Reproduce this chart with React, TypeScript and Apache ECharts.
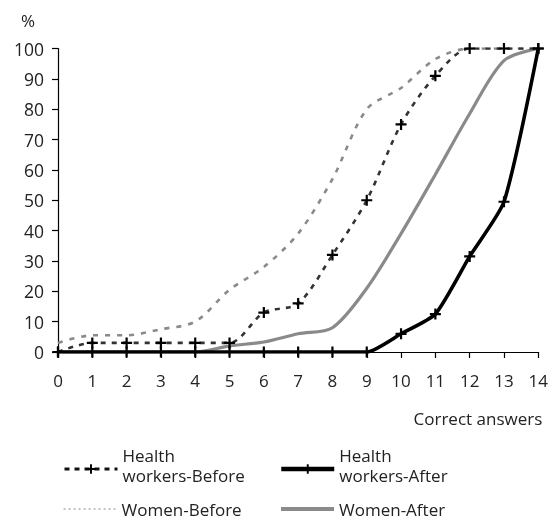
import React, { useEffect, useRef } from "react";
import * as echarts from "echarts";

const answers = [0, 1, 2, 3, 4, 5, 6, 7, 8, 9, 10, 11, 12, 13, 14];
const hwBefore = [0, 3, 3, 3, 3, 3, 13, 16, 32, 50, 75, 91, 100, 100, 100];
const hwAfter = [0, 0, 0, 0, 0, 0, 0, 0, 0, 0, 6, 12.5, 31.5, 49.5, 100];
const womenBefore = [3, 5.5, 5.5, 7.5, 10, 20.5, 28, 39, 57, 80, 87, 96.5, 100, 100, 100];
const womenAfter = [0, 0, 0, 0, 0, 2, 3.3, 6, 8, 21, 39, 58.5, 78.5, 96, 100];

const seriesNames = ["Health workers-Before", "Health workers-After", "Women-Before", "Women-After"];

export default function App() {
  const ref = useRef<HTMLDivElement>(null);
  useEffect(() => {
    const chart = echarts.init(ref.current!, null, { renderer: "svg" });
    const font = "'Open Sans', sans-serif";
    const plus = "path://M4,0H6V4H10V6H6V10H4V6H0V4H4Z";
    const pairs = (arr: number[]) => answers.map((x, i) => [x, arr[i]]);
    const rich = {
      t: { fontFamily: font, fontSize: 17, lineHeight: 20, color: "#222" },
      s: { fontFamily: font, fontSize: 1, lineHeight: 8, color: "rgba(0,0,0,0)" },
    };
    const mkLegend = (name: string, left: number, top: number, extra: any = {}) => ({
      data: [{ name, ...extra }],
      left,
      top,
      padding: 0,
      itemWidth: 53,
      itemHeight: 12,
      selectedMode: false,
      formatter: (n: string) => {
        const i = n.indexOf(" ");
        if (i < 0) return `{t|${n}}`;
        return `{t|${n.slice(0, i)}}\n{t|${n.slice(i + 1)}}\n{s| }`;
      },
      textStyle: { fontFamily: font, fontSize: 17, lineHeight: 20, color: "#222", rich },
    });
    chart.setOption({
      animation: false,
      textStyle: { fontFamily: font },
      grid: { left: 58, right: 11, top: 48.5, bottom: 167 },
      xAxis: {
        type: "value",
        min: 0,
        max: 14,
        interval: 1,
        name: "Correct answers",
        nameLocation: "end",
        nameGap: 4,
        nameTextStyle: {
          fontFamily: font,
          fontSize: 17,
          color: "#222",
          align: "right",
          verticalAlign: "top",
          padding: [58, 0, 0, 0],
        },
        axisLine: { lineStyle: { color: "#000", width: 1.2 } },
        axisTick: { show: true, length: 6, lineStyle: { color: "#000", width: 1.2 } },
        axisLabel: { fontFamily: font, fontSize: 17, color: "#222", margin: 20 },
        splitLine: { show: false },
      },
      yAxis: {
        type: "value",
        min: 0,
        max: 100,
        interval: 10,
        name: "%",
        nameLocation: "end",
        nameGap: 28,
        nameTextStyle: {
          fontFamily: font,
          fontSize: 17,
          color: "#222",
          align: "right",
          verticalAlign: "middle",
          padding: [0, 23, 0, 0],
        },
        axisLine: { show: true, lineStyle: { color: "#000", width: 1.2 } },
        axisTick: { show: true, length: 6, lineStyle: { color: "#000", width: 1.2 } },
        axisLabel: { fontFamily: font, fontSize: 17.5, color: "#222", margin: 14 },
        splitLine: { show: false },
      },
      legend: [
        mkLegend(seriesNames[0], 63, 445, { lineStyle: { type: [5, 5], width: 3, color: "#111" } }),
        mkLegend(seriesNames[1], 279, 445, { lineStyle: { width: 4.5, color: "#000" } }),
        mkLegend(seriesNames[2], 63, 499, {
          itemStyle: { opacity: 0 },
          lineStyle: { type: [2, 3], width: 1.2, color: "#888" },
        }),
        mkLegend(seriesNames[3], 279, 499, { itemStyle: { opacity: 0 }, lineStyle: { width: 4, color: "#8a8a8a" } }),
      ],
      series: [
        {
          name: seriesNames[2],
          type: "line",
          data: pairs(womenBefore),
          smooth: 0.3,
          symbol: "none",
          lineStyle: { color: "#8a8a8a", width: 2.6, type: [5, 7] },
          itemStyle: { color: "#8a8a8a" },
        },
        {
          name: seriesNames[3],
          type: "line",
          data: pairs(womenAfter),
          smooth: 0.3,
          symbol: "none",
          lineStyle: { color: "#8a8a8a", width: 3.2 },
          itemStyle: { color: "#8a8a8a" },
        },
        {
          name: seriesNames[0],
          type: "line",
          data: pairs(hwBefore),
          smooth: 0.3,
          symbol: plus,
          symbolSize: 11,
          showAllSymbol: true,
          lineStyle: { color: "#333", width: 2.6, type: [5, 6] },
          itemStyle: { color: "#000" },
        },
        {
          name: seriesNames[1],
          type: "line",
          data: pairs(hwAfter),
          smooth: 0.2,
          symbol: plus,
          symbolSize: 11,
          showAllSymbol: true,
          lineStyle: { color: "#000", width: 3.6 },
          itemStyle: { color: "#000" },
        },
      ],
    });
    return () => chart.dispose();
  }, []);
  return <div ref={ref} style={{ position: "fixed", left: 0, top: 0, width: 551, height: 519 }} />;
}
